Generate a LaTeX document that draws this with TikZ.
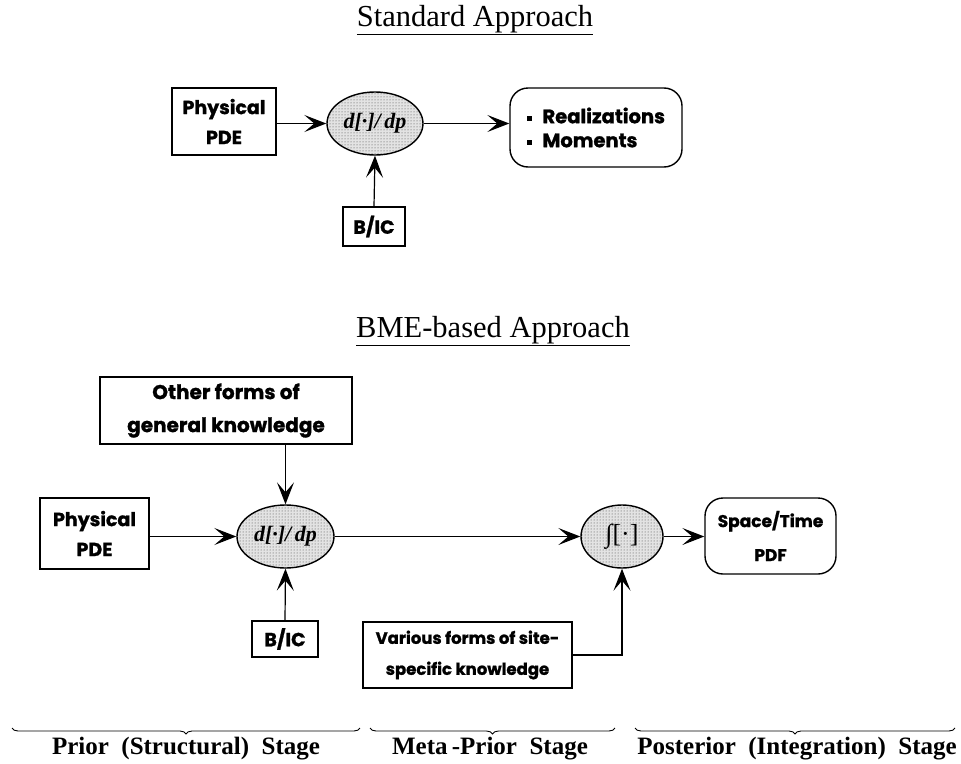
\documentclass[tikz,border=0pt]{standalone}
\usepackage{fontspec}
\setmainfont{Liberation Serif}
\newfontfamily\boxfont{Poppins}[BoldFeatures={FakeBold=1.2}]
\usetikzlibrary{arrows.meta,shapes.geometric,patterns,decorations.pathreplacing}
\newcommand{\fsz}[2]{\fontsize{#1}{#2}\selectfont}
\newcommand{\sqbullet}{\raisebox{2.5pt}{\rule{4.5pt}{4.5pt}}}
\tikzset{
  box/.style={draw,line width=1.4pt,inner sep=0pt,align=center,font=\boxfont\bfseries\fsz{19}{30}},
  rbox/.style={box,rounded corners=18pt},
  oval/.style={ellipse,draw,line width=1.4pt,inner sep=0pt,preaction={fill=gray!22},pattern=dots,pattern color=black!75,
     font=\bfseries\itshape\fsz{22}{24}},
  arr/.style={line width=1.2pt,-{Stealth[length=22pt,width=17pt,inset=10pt]}},
  bracestyle/.style={decorate,decoration={brace,mirror,amplitude=6pt},line width=0.9pt},
  title/.style={font=\fsz{30.5}{32}},
  stage/.style={font=\bfseries\fsz{25}{28}}
}
\begin{document}
\begin{tikzpicture}[x=1pt,y=-1pt]
\useasboundingbox (0,0) rectangle (961,763);
% titles
\node[title] (t1) at (475,20) {\underline{Standard Approach}};
\node[title] (t2) at (493,331) {\underline{BME-based Approach}};
% top diagram
\node[box,minimum width=104pt,minimum height=67pt] (pde1) at (224,121.5) {Physical\\PDE};
\node[oval,minimum width=96pt,minimum height=63pt] (diff1) at (375,123.5) {d[·]/\,dp};
\node[rbox,minimum width=172pt,minimum height=79pt,align=left,font=\boxfont\bfseries\fsz{19.5}{24}] (res) at (596,127.5)
   {\sqbullet\hspace{11pt}Realizations\\ \sqbullet\hspace{11pt}Moments};
\node[box,minimum width=62pt,minimum height=39pt] (bic1) at (374,226.5) {B/IC};
\draw[arr] (pde1.east |- diff1) -- (diff1.west);
\draw[arr] (diff1.east) -- (diff1.east -| res.west);
\draw[arr] (bic1.north) -- (diff1.south);
% bottom diagram
\node[box,minimum width=252pt,minimum height=67pt,font=\boxfont\bfseries\fsz{20}{33}] (other) at (226,410.5) {Other forms of\\general knowledge};
\node[oval,minimum width=97pt,minimum height=63pt] (diff2) at (285.5,536.5) {d[·]/\,dp};
\node[box,minimum width=109pt,minimum height=71pt] (pde2) at (94.5,533.5) {Physical\\PDE};
\node[box,minimum width=66pt,minimum height=36pt] (bic2) at (285,639) {B/IC};
\node[box,minimum width=209pt,minimum height=66pt,font=\boxfont\bfseries\fsz{16.5}{31}] (various) at (467.5,655) {Various forms of site-\\specific knowledge};
\node[oval,minimum width=82pt,minimum height=63pt,font=\fsz{26}{27}] (int) at (622,536.5) {∫[·]};
\node[rbox,minimum width=131pt,minimum height=76pt,font=\boxfont\bfseries\fsz{17}{34}] (st) at (770.5,536) {Space/Time\\PDF};
\draw[arr] (other.south -| diff2) -- (diff2.north);
\draw[arr] (pde2.east |- diff2) -- (diff2.west);
\draw[arr] (bic2.north) -- (diff2.south);
\draw[arr] (diff2.east) -- (int.west);
\draw[arr] (int.east) -- (int.east -| st.west);
\draw[arr] (various.east) -| (int.south);
% braces
\coordinate (b1a) at (12,728); \coordinate (b1b) at (360,728);
\coordinate (b2a) at (370,728); \coordinate (b2b) at (615,728);
\coordinate (b3a) at (635,728); \coordinate (b3b) at (955,728);
\draw[bracestyle] (b1a) -- (b1b);
\draw[bracestyle] (b2a) -- (b2b);
\draw[bracestyle] (b3a) -- (b3b);
\node[stage] (s1) at (186,749) {Prior\ \ (Structural)\ \ Stage};
\node[stage] (s2) at (490,749) {Meta\,-Prior\ \ Stage};
\node[stage] (s3) at (797,749) {Posterior\ \ (Integration)\ \ Stage};
\end{tikzpicture}
\end{document}
